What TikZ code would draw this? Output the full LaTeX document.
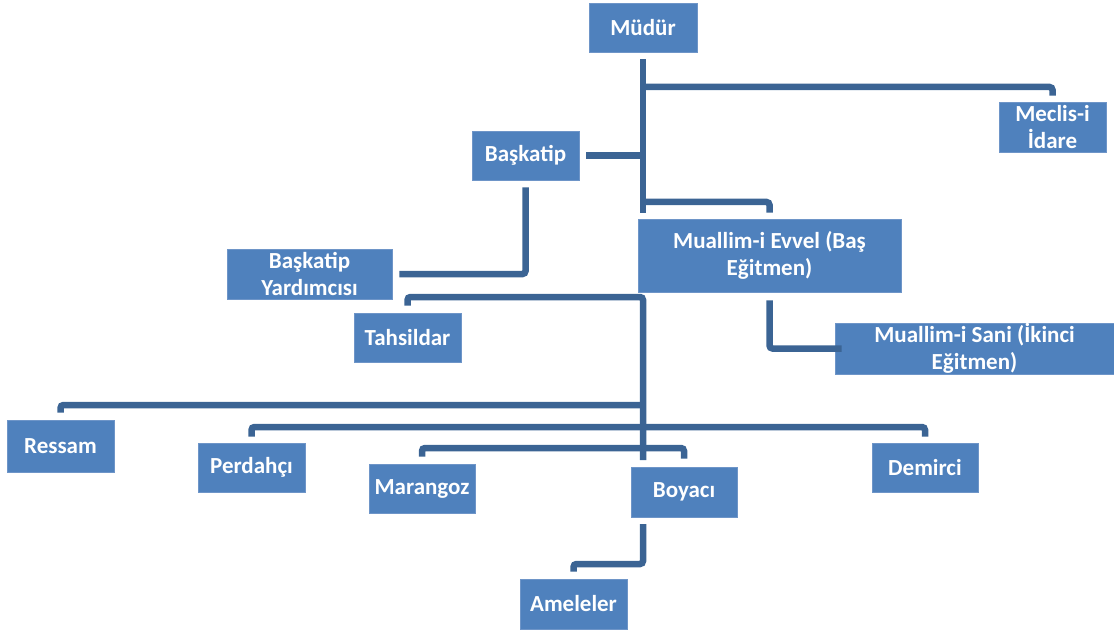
\documentclass[tikz,border=0pt]{standalone}
\usepackage{fontspec}
\setmainfont{Carlito}
\begin{document}
\begin{tikzpicture}[x=1pt,y=-1pt,
  box/.style={draw={rgb,255:red,110;green,149;blue,200}, line width=0.8pt,
    fill={rgb,255:red,79;green,129;blue,189}, text=white, inner sep=0pt,
    font=\fontsize{23}{27}\selectfont\bfseries, align=center},
  conn/.style={draw={rgb,255:red,59;green,100;blue,148}, line width=6.5pt, rounded corners=3pt}]
\useasboundingbox (0,0) rectangle (1114,631);
\node[box, minimum width=108pt, minimum height=49pt] (mudur) at (643,27.5) {Müdür};
\node[box, minimum width=107pt, minimum height=50pt] (meclis) at (1052.5,127) {Meclis-i\\İdare};
\node[box, minimum width=107pt, minimum height=49pt] (baskatip) at (525.5,155.5) {Başkatip};
\node[box, minimum width=263pt, minimum height=73pt] (evvel) at (769.5,255.5) {Muallim-i Evvel (Baş\\Eğitmen)};
\node[box, minimum width=165pt, minimum height=50pt] (yard) at (309.5,274) {Başkatip\\Yardımcısı};
\node[box, minimum width=107pt, minimum height=49pt] (tahsil) at (407.5,337.5) {Tahsildar};
\node[box, minimum width=279pt, minimum height=51pt] (sani) at (974.5,348.5) {Muallim-i Sani (İkinci\\Eğitmen)};
\node[box, minimum width=107pt, minimum height=52pt] (ressam) at (60.5,446) {Ressam};
\node[box, minimum width=107pt, minimum height=49pt] (perdah) at (251.5,467.5) {Perdahçı};
\node[box, minimum width=106pt, minimum height=49pt] (marangoz) at (422,488.5) {Marangoz};
\node[box, minimum width=106pt, minimum height=50pt] (boyaci) at (684,492) {Boyacı};
\node[box, minimum width=106pt, minimum height=49pt] (demirci) at (925,467.5) {Demirci};
\node[box, minimum width=107pt, minimum height=50pt] (ameleler) at (573.5,604) {Ameleler};
\coordinate (t1) at (643,213);
\coordinate (j) at (643,297);
\coordinate (jend) at (643,460);
% Müdür trunk
\draw[conn, rounded corners=0pt] ([yshift=-7pt]mudur.south) -- (t1);
\draw[conn] (mudur.south |- 0,87) -- (meclis.north |- 0,87) -- ([yshift=6pt]meclis.north);
\draw[conn] ([xshift=7pt]baskatip.east) -- (mudur.south |- baskatip.east);
\draw[conn] (mudur.south |- 0,202) -- (evvel.north |- 0,202) -- ([yshift=6pt]evvel.north);
% Başkatip -> Yardımcısı
\draw[conn] ([yshift=-7pt]baskatip.south) -- (baskatip.south |- yard.east) -- ([xshift=7pt]yard.east);
% Evvel -> Sani
\draw[conn] ([yshift=-8pt]evvel.south) -- (evvel.south |- sani.west) -- ([xshift=7pt]sani.west);
% second tree
\draw[conn] ([yshift=7pt]tahsil.north) -- (tahsil.north |- j) -- (j) -- (jend);
\draw[conn] ([yshift=7pt]ressam.north) -- (ressam.north |- 0,405) -- (j |- 0,405);
\draw[conn] ([yshift=6pt]perdah.north) -- (perdah.north |- 0,427) -- (demirci.north |- 0,427) -- ([yshift=6pt]demirci.north);
\draw[conn] ([yshift=7pt]marangoz.north) -- (marangoz.north |- 0,448) -- (boyaci.north |- 0,448) -- ([yshift=8pt]boyaci.north);
% Boyacı -> Ameleler
\draw[conn] (j |- 0,524) -- (j |- 0,564) -- (ameleler.north |- 0,564) -- ([yshift=7pt]ameleler.north);
\end{tikzpicture}
\end{document}
